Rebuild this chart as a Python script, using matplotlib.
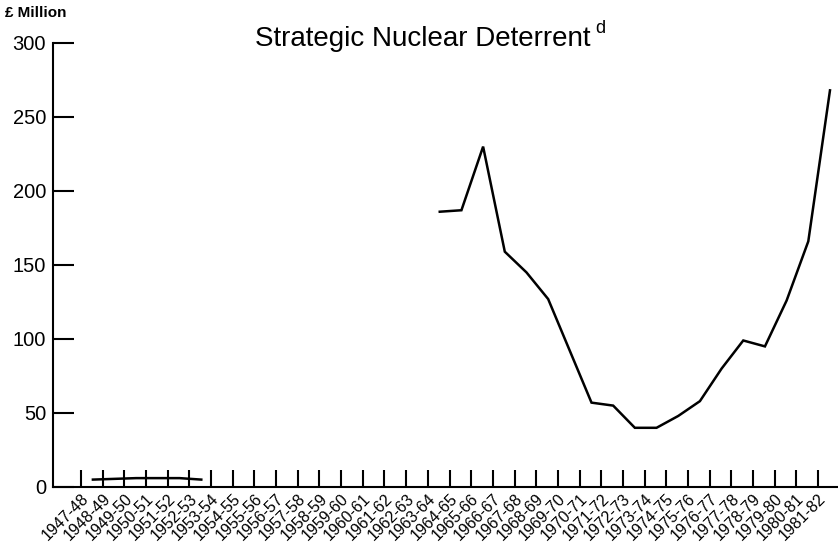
import numpy as np
import matplotlib.pyplot as plt

# ----------------------------
# Data
# ----------------------------
years = ["1947-48", "1948-49", "1949-50", "1950-51", "1951-52", "1952-53",
         "1953-54", "1954-55", "1955-56", "1956-57", "1957-58", "1958-59",
         "1959-60", "1960-61", "1961-62", "1962-63", "1963-64", "1964-65",
         "1965-66", "1966-67", "1967-68", "1968-69", "1969-70", "1970-71",
         "1971-72", "1972-73", "1973-74", "1974-75", "1975-76", "1976-77",
         "1977-78", "1978-79", "1979-80", "1980-81", "1981-82"]

early_years = years[0:6]
early_spend = [5, 5.5, 6, 6, 6, 5]

polaris_years = years[16:]
polaris_spend = [186, 187, 230, 159, 145, 127, 92, 57, 55, 40, 40, 48,
                 58, 80, 99, 95, 126, 166, 268]

plt.rcParams['font.family'] = ['Liberation Sans', 'DejaVu Sans']

fig = plt.figure(figsize=(8.38, 5.48), dpi=100)
ax = fig.add_axes([53 / 838, 61 / 548, 785 / 838, 444 / 548])

# points sit a little to the right of their tick
offset = 0.55
idx = {y: i for i, y in enumerate(years)}
ax.plot([idx[y] + offset for y in early_years], early_spend,
        color="black", lw=1.8, solid_joinstyle="miter")
ax.plot([idx[y] + offset for y in polaris_years], polaris_spend,
        color="black", lw=1.8, solid_joinstyle="miter")

# ----------------------------
# Axes styling
# ----------------------------
ax.set_xlim(-1.29, len(years) - 1 + 0.92)
ax.set_ylim(0, 300)
ax.set_yticks([0, 50, 100, 150, 200, 250, 300])
ax.set_xticks(np.arange(len(years)))
ax.set_xticklabels(years, rotation=45, ha="right", va="top",
                   rotation_mode="anchor", fontsize=11.5)

for side in ["top", "right"]:
    ax.spines[side].set_visible(False)
for side in ["left", "bottom"]:
    ax.spines[side].set_linewidth(1.5)

ax.tick_params(axis="y", direction="in", length=15, width=1.5,
               labelsize=14.5, pad=5)
ax.tick_params(axis="x", direction="in", length=12, width=1.5, pad=3)

# ----------------------------
# Titles
# ----------------------------
fig.text(5 / 838, 1 - 13 / 548, "£ Million", fontsize=11,
         fontweight="bold", va="center", ha="left")
title = fig.text(255 / 838, 1 - 46 / 548, "Strategic Nuclear Deterrent",
                 fontsize=20, ha="left", va="baseline")

# superscript "d" just after the title
fig.canvas.draw()
bb = title.get_window_extent()
fig.text((bb.x1 + 5) / 838, 1 - 33 / 548, "d", fontsize=13,
         ha="left", va="baseline")

fig.savefig("out.png", dpi=100)
